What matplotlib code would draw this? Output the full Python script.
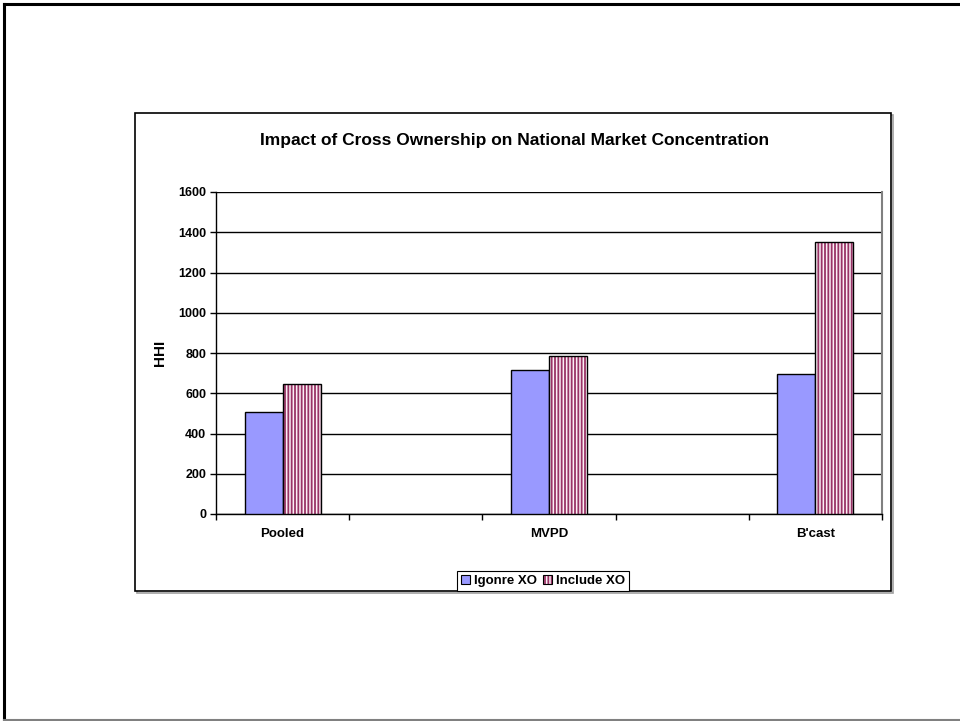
import matplotlib
matplotlib.use('Agg')
import matplotlib.pyplot as plt
import numpy as np
from matplotlib.patches import Rectangle
from matplotlib.lines import Line2D
from matplotlib.legend_handler import HandlerTuple

plt.rcParams['font.family'] = ['Liberation Sans', 'DejaVu Sans']
plt.rcParams['font.weight'] = 'bold'
plt.rcParams['hatch.linewidth'] = 1.3

# blank slots between the groups give the wide spacing
categories = ['Pooled', '', 'MVPD', '', "B'cast"]
ignore_xo = [505, np.nan, 716, np.nan, 697]
include_xo = [648, np.nan, 785, np.nan, 1350]
series_names = ['Igonre XO', 'Include XO']
y_ticks = [0, 200, 400, 600, 800, 1000, 1200, 1400, 1600]

fig = plt.figure(figsize=(9.6, 7.21), dpi=100)
W, H = 960, 721

# slide frame
fig.add_artist(Line2D([4 / W, 4 / W], [1 - 4 / H, 1 - 719 / H], color='black', lw=2.2, zorder=-2))
fig.add_artist(Line2D([4 / W, 1], [1 - 4 / H, 1 - 4 / H], color='black', lw=2.2, zorder=-2))
fig.add_artist(Line2D([4 / W, 1], [1 - 719.5 / H, 1 - 719.5 / H], color='#808080', lw=1.5, zorder=-2))

# chart area box with a faint shadow
fig.add_artist(Rectangle((137 / W, 1 - 593 / H), 756 / W, 478 / H, transform=fig.transFigure,
                         facecolor='none', edgecolor='#a0a0a0', lw=1.2, zorder=-2))
fig.add_artist(Rectangle((135 / W, 1 - 591 / H), 756 / W, 478 / H, transform=fig.transFigure,
                         facecolor='white', edgecolor='black', lw=1.2, zorder=-1))

ax = fig.add_axes([216 / W, 1 - 514 / H, 666 / W, 322 / H])
ax.set_zorder(2)
x = np.arange(len(categories))
bw = 0.285
ax.bar(x - bw / 2, ignore_xo, bw, color='#9999FF', edgecolor='black', linewidth=1.0, zorder=3)
ax.bar(x + bw / 2, include_xo, bw, facecolor='#FBEFF5', edgecolor='#993366',
       hatch='|||||', linewidth=0, zorder=3)
ax.bar(x + bw / 2, include_xo, bw, facecolor='none', edgecolor='black', linewidth=1.0, zorder=4)

ax.set_xlim(-0.5, len(categories) - 0.5)
ax.set_ylim(0, 1600)
ax.set_yticks(y_ticks)
ax.set_yticklabels([str(v) for v in y_ticks], fontsize=9, fontweight='bold')
ax.set_xticks(x)
ax.set_xticklabels(categories, fontsize=9.5, fontweight='bold')
ax.set_xticks(np.arange(-0.5, len(categories), 1.0), minor=True)
ax.tick_params(axis='x', which='major', length=0, pad=10)
ax.tick_params(axis='x', which='minor', length=4, width=1, direction='out')
ax.tick_params(axis='y', length=4, width=1, direction='out', pad=3)

ax.yaxis.grid(True, color='black', linewidth=1.0, zorder=0)
ax.set_axisbelow(True)
ax.spines['top'].set_visible(False)
ax.spines['right'].set_color('#808080')
ax.spines['right'].set_linewidth(1.5)
ax.spines['left'].set_linewidth(1.0)
ax.spines['bottom'].set_linewidth(1.0)

ax.set_ylabel('HHI', fontsize=11, fontweight='bold', labelpad=8)

fig.text(515 / W, 1 - 141 / H, 'Impact of Cross Ownership on National Market Concentration',
         ha='center', va='center', fontsize=12.5, fontweight='bold')

# legend
ign_patch = Rectangle((0, 0), 1, 1, facecolor='#9999FF', edgecolor='black', lw=0.8)
inc_fill = Rectangle((0, 0), 1, 1, facecolor='#FBEFF5', edgecolor='#993366', hatch='|||||', lw=0)
inc_edge = Rectangle((0, 0), 1, 1, facecolor='none', edgecolor='black', lw=0.8)
leg = fig.legend([ign_patch, (inc_fill, inc_edge)], series_names,
                 handler_map={tuple: HandlerTuple(ndivide=1)},
                 loc='center', bbox_to_anchor=(543 / W, 1 - 581 / H), ncol=2,
                 fontsize=9.5, frameon=True, fancybox=False, framealpha=1,
                 edgecolor='black', handlelength=0.7, handleheight=0.7,
                 handletextpad=0.3, columnspacing=0.4, borderpad=0.3, borderaxespad=0)
leg.get_frame().set_linewidth(0.8)
leg.set_zorder(3)
for t in leg.get_texts():
    t.set_fontweight('bold')

fig.savefig('out.png', dpi=100, facecolor='white')
